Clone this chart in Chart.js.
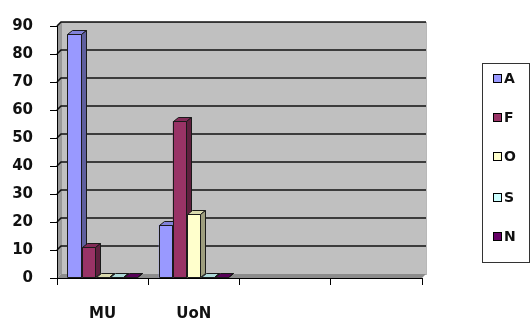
<!DOCTYPE html>
<html>
<head>
<meta charset="utf-8">
<script src="https://cdn.jsdelivr.net/npm/chart.js@4.4.1/dist/chart.umd.min.js"></script>
<style>
  html, body { margin: 0; padding: 0; background: #fff; }
  #wrap { position: relative; width: 531px; height: 322px; overflow: hidden; }
  #legend {
    position: absolute; left: 482px; top: 63px; width: 48px; height: 200px;
    border: 1px solid #333; box-sizing: border-box;
    font: bold 14px "DejaVu Sans", sans-serif; color: #111;
  }
  .item { position: absolute; left: 10px; height: 16px; line-height: 16px; display: flex; align-items: center; }
  .sw { width: 7px; height: 7px; border: 1px solid #000; margin-right: 2px; }
</style>
</head>
<body>
<div id="wrap">
  <canvas id="c" width="531" height="322"></canvas>
  <div id="legend"></div>
</div>
<script>
// Categories along the x axis (the last two slots are empty)
const categories = ['MU', 'UoN', '', ''];
// Series names and their values per category
const seriesNames = ['A', 'F', 'O', 'S', 'N'];
const valuesA = [87, 19, null, null];
const valuesF = [11, 56, null, null];
const valuesO = [0, 23, null, null];
const valuesS = [0, 0, null, null];
const valuesN = [0, 0, null, null];
// Y axis tick range
const yMin = 0, yMax = 90, yStep = 10;

const seriesColors = ['#9999FF', '#993366', '#FFFFCC', '#CCFFFF', '#660066'];
const seriesValues = [valuesA, valuesF, valuesO, valuesS, valuesN];

function shade(hex, f) {
  const n = parseInt(hex.slice(1), 16);
  const r = Math.round(((n >> 16) & 255) * f);
  const g = Math.round(((n >> 8) & 255) * f);
  const b = Math.round((n & 255) * f);
  return `rgb(${r},${g},${b})`;
}

// Grey back wall, side wall, floor and horizontal gridlines of the 3D plot
const WALL_DX = 4, WALL_DY = -4;
const wallPlugin = {
  id: 'wall',
  beforeDraw(chart) {
    const { ctx, chartArea: a, scales } = chart;
    const L = a.left, R = a.right, T = a.top, B = a.bottom;
    ctx.save();
    // left side wall
    ctx.fillStyle = '#9a9a9a';
    ctx.beginPath();
    ctx.moveTo(L, T); ctx.lineTo(L + WALL_DX, T + WALL_DY);
    ctx.lineTo(L + WALL_DX, B + WALL_DY); ctx.lineTo(L, B);
    ctx.closePath(); ctx.fill();
    // back wall
    ctx.fillStyle = '#c0c0c0';
    ctx.fillRect(L + WALL_DX, T + WALL_DY, R - L, B - T);
    ctx.strokeStyle = '#707070';
    ctx.lineWidth = 1;
    ctx.setLineDash([1, 1]);
    ctx.strokeRect(L + WALL_DX + 0.5, T + WALL_DY + 0.5, R - L, B - T);
    ctx.setLineDash([]);
    // floor
    ctx.fillStyle = '#8c8c8c';
    ctx.beginPath();
    ctx.moveTo(L, B); ctx.lineTo(L + WALL_DX, B + WALL_DY);
    ctx.lineTo(R + WALL_DX, B + WALL_DY); ctx.lineTo(R, B);
    ctx.closePath(); ctx.fill();
    // gridlines on the back wall and side wall
    const ys = scales.y;
    ctx.strokeStyle = '#111';
    ctx.lineWidth = 1.6;
    ys.ticks.forEach(t => {
      if (t.value <= yMin) return;
      const y = ys.getPixelForValue(t.value);
      ctx.beginPath();
      ctx.moveTo(L, y);
      ctx.lineTo(L + WALL_DX, y + WALL_DY);
      ctx.lineTo(R + WALL_DX, y + WALL_DY);
      ctx.stroke();
    });
    ctx.restore();
  }
};

// Gives every bar a lit top face and a shaded side face
const BAR_DX = 5, BAR_DY = -4;
const bar3dPlugin = {
  id: 'bar3d',
  afterDatasetsDraw(chart) {
    const { ctx } = chart;
    const bars = [];
    chart.data.datasets.forEach((ds, di) => {
      const meta = chart.getDatasetMeta(di);
      meta.data.forEach((el, i) => {
        if (ds.data[i] === null || ds.data[i] === undefined) return;
        const p = el.getProps(['x', 'y', 'base', 'width'], true);
        bars.push({ p, color: ds.backgroundColor });
      });
    });
    bars.sort((a, b) => a.p.x - b.p.x);
    ctx.save();
    ctx.lineWidth = 1;
    ctx.strokeStyle = '#1a1a1a';
    ctx.lineJoin = 'round';
    bars.forEach(({ p, color }) => {
      const x0 = Math.round(p.x - p.width / 2), x1 = Math.round(p.x + p.width / 2);
      const top = Math.round(Math.min(p.y, p.base - 1)), bot = Math.round(p.base);
      // front face
      ctx.fillStyle = color;
      ctx.fillRect(x0, top, x1 - x0, bot - top);
      ctx.strokeRect(x0 + 0.5, top + 0.5, x1 - x0 - 1, bot - top - 1);
      // top face
      ctx.fillStyle = shade(color, 0.85);
      ctx.beginPath();
      ctx.moveTo(x0 + 0.5, top + 0.5);
      ctx.lineTo(x0 + BAR_DX + 0.5, top + BAR_DY + 0.5);
      ctx.lineTo(x1 + BAR_DX - 0.5, top + BAR_DY + 0.5);
      ctx.lineTo(x1 - 0.5, top + 0.5);
      ctx.closePath(); ctx.fill(); ctx.stroke();
      // side face
      ctx.fillStyle = shade(color, 0.62);
      ctx.beginPath();
      ctx.moveTo(x1 - 0.5, top + 0.5);
      ctx.lineTo(x1 + BAR_DX - 0.5, top + BAR_DY + 0.5);
      ctx.lineTo(x1 + BAR_DX - 0.5, bot + BAR_DY - 0.5);
      ctx.lineTo(x1 - 0.5, bot - 0.5);
      ctx.closePath(); ctx.fill(); ctx.stroke();
    });
    ctx.restore();
  }
};

const axisFont = { family: '"DejaVu Sans", sans-serif', size: 15, weight: 'bold' };

new Chart(document.getElementById('c'), {
  type: 'bar',
  data: {
    labels: categories,
    datasets: seriesNames.map((name, i) => ({
      label: name,
      data: seriesValues[i],
      backgroundColor: seriesColors[i],
      borderColor: '#1a1a1a',
      borderWidth: 0,
      categoryPercentage: 0.77,
      barPercentage: 1.0
    }))
  },
  options: {
    responsive: false,
    animation: false,
    devicePixelRatio: 1,
    layout: { padding: { top: 20, right: 109, bottom: 0, left: 0 } },
    plugins: { legend: { display: false }, tooltip: { enabled: false } },
    scales: {
      x: {
        offset: true,
        afterFit(scale) { scale.height = 44; },
        grid: { offset: true, drawOnChartArea: false, drawTicks: true, tickLength: 7, color: '#000', lineWidth: 1 },
        border: { color: '#000', width: 1 },
        ticks: { color: '#111', font: axisFont, padding: 20, maxRotation: 0 }
      },
      y: {
        min: yMin, max: yMax,
        afterFit(scale) { scale.width = 57; },
        grid: { drawOnChartArea: false, drawTicks: true, tickLength: 7, color: '#000', lineWidth: 1 },
        border: { color: '#000', width: 1 },
        ticks: { stepSize: yStep, color: '#111', font: axisFont, padding: 17 }
      }
    }
  },
  plugins: [wallPlugin, bar3dPlugin]
});

// Legend listing the series with their colour swatches
const legendTops = [77, 116, 155, 196, 235];
const legendEl = document.getElementById('legend');
seriesNames.forEach((name, i) => {
  const item = document.createElement('div');
  item.className = 'item';
  item.style.top = (legendTops[i] - 63 - 8) + 'px';
  const sw = document.createElement('span');
  sw.className = 'sw';
  sw.style.background = seriesColors[i];
  const tx = document.createElement('span');
  tx.textContent = name;
  item.appendChild(sw);
  item.appendChild(tx);
  legendEl.appendChild(item);
});
</script>
</body>
</html>
